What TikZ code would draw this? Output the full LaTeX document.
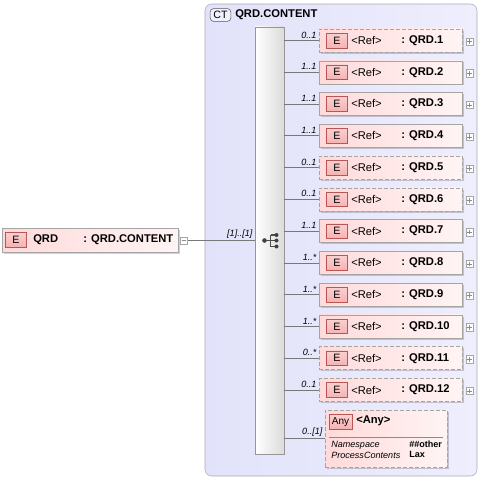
\documentclass[tikz,border=0pt]{standalone}
\usepackage{fontspec}
\setmainfont{Liberation Sans}
\usetikzlibrary{positioning, calc, shadows}

\definecolor{ctleft}{RGB}{226,226,250}
\definecolor{ctright}{RGB}{238,238,253}
\definecolor{ctline}{RGB}{170,170,180}
\definecolor{elemleft}{RGB}{255,218,218}
\definecolor{elemright}{RGB}{255,244,244}
\definecolor{elemline}{RGB}{165,165,165}
\definecolor{badgefill}{RGB}{246,178,178}
\definecolor{badgeline}{RGB}{185,85,85}
\definecolor{seqline}{RGB}{150,150,150}
\definecolor{conncol}{RGB}{120,120,120}

\begin{document}
\begin{tikzpicture}[x=0.75pt,y=0.75pt,yscale=-1,xscale=1,
	ctbox/.style={draw=ctline, rounded corners=5pt, left color=ctleft, right color=ctright, inner sep=0pt},
	ctbadge/.style={draw=black!65, fill=ctleft!80!blue!20, rounded corners=2.5pt, inner sep=0pt, minimum width=15.5pt, minimum height=9.5pt, font=\fontsize{8}{9}\selectfont},
	seqbar/.style={draw=seqline, left color=white, right color=black!14, inner sep=0pt, minimum width=21.75pt, minimum height=320.25pt, drop shadow={shadow xshift=1pt, shadow yshift=-1pt, fill=black, opacity=0.15}},
	elembox/.style={draw=elemline, left color=elemleft, right color=elemright, inner sep=0pt, minimum width=107.25pt, minimum height=17.25pt, drop shadow={shadow xshift=1.2pt, shadow yshift=-1.2pt, fill=black, opacity=0.18}},
	optbox/.style={elembox, dashed, dash pattern=on 3pt off 1.5pt},
	ebadge/.style={draw=badgeline, top color=badgefill!60, bottom color=badgefill, inner sep=0pt, minimum width=15.75pt, minimum height=11pt, font=\fontsize{8}{9}\selectfont},
	plusbox/.style={draw=black!35, fill=white, inner sep=0pt, minimum size=5.5pt, path picture={\draw[black!45] ([xshift=1pt]path picture bounding box.west) -- ([xshift=-1pt]path picture bounding box.east);}},
	plus/.style={plusbox, path picture={\draw[black!45] ([xshift=1pt]path picture bounding box.west) -- ([xshift=-1pt]path picture bounding box.east); \draw[black!45] ([yshift=-1pt]path picture bounding box.north) -- ([yshift=1pt]path picture bounding box.south);}},
	reftxt/.style={anchor=west, inner sep=0pt, font=\fontsize{8.4}{10}\selectfont},
	nametxt/.style={anchor=west, inner sep=0pt, font=\fontsize{8.4}{10}\selectfont\bfseries},
	mult/.style={anchor=south east, inner sep=1.5pt, font=\fontsize{6.8}{8}\selectfont\itshape},
	small/.style={anchor=west, inner sep=0pt, font=\fontsize{6.8}{8}\selectfont},
	conn/.style={draw=conncol, line width=0.5pt}]
\useasboundingbox (0,0) rectangle (480,481);

% Complex type container
\node [ctbox, minimum width=204pt, minimum height=354pt] (ct) at (341,240) {};
\node [ctbadge] (ctb) at (220.5,15) {CT};
\node [nametxt] (cthdr) at (235,14.5) {QRD.CONTENT};

% Sequence compositor
\node [seqbar] (seq) at (269.5,240.5) {};
\draw [black!70, line width=0.8pt] (264.5,240.5) -- (276.5,240.5) (270.5,235) -- (270.5,246.5) (270.5,235) -- (276.5,235) (270.5,246.5) -- (276.5,246.5);
\fill [black!75] (264.5,240.5) circle (2.3) (276.5,235) circle (2) (276.5,240.5) circle (2) (276.5,246.5) circle (2);

% Root element
\node [elembox, minimum width=132pt, minimum height=18pt] (qrd) at (90,240) {};
\node [ebadge] (qrde) at (16,239.5) {E};
\node [nametxt] at (33,239.5) {QRD};
\node [nametxt] at (83,239.5) {: QRD.CONTENT};
\node [plusbox] (qrdm) at (184,240.5) {};
\draw [conn] (qrdm) -- (qrdm -| seq.west) node [mult, pos=1] {[1]..[1]};

% Child elements
\node [optbox] (r1) at (390.5,40.5) {};
\node [ebadge] at (337,40.5) {E};
\node [reftxt] at (351,40.5) {<Ref>};
\node [nametxt] at (401,40.5) {: QRD.1};
\node [plus] at (469.5,41.5) {};
\draw [conn] (seq.east |- r1.west) -- (r1.west) node [mult, pos=1] {0..1};

\node [elembox] (r2) at (390.5,72.3) {};
\node [ebadge] at (337,72.3) {E};
\node [reftxt] at (351,72.3) {<Ref>};
\node [nametxt] at (401,72.3) {: QRD.2};
\node [plus] at (469.5,73.3) {};
\draw [conn] (seq.east |- r2.west) -- (r2.west) node [mult, pos=1] {1..1};

\node [elembox] (r3) at (390.5,104) {};
\node [ebadge] at (337,104) {E};
\node [reftxt] at (351,104) {<Ref>};
\node [nametxt] at (401,104) {: QRD.3};
\node [plus] at (469.5,105) {};
\draw [conn] (seq.east |- r3.west) -- (r3.west) node [mult, pos=1] {1..1};

\node [elembox] (r4) at (390.5,135.8) {};
\node [ebadge] at (337,135.8) {E};
\node [reftxt] at (351,135.8) {<Ref>};
\node [nametxt] at (401,135.8) {: QRD.4};
\node [plus] at (469.5,136.8) {};
\draw [conn] (seq.east |- r4.west) -- (r4.west) node [mult, pos=1] {1..1};

\node [optbox] (r5) at (390.5,167.6) {};
\node [ebadge] at (337,167.6) {E};
\node [reftxt] at (351,167.6) {<Ref>};
\node [nametxt] at (401,167.6) {: QRD.5};
\node [plus] at (469.5,168.6) {};
\draw [conn] (seq.east |- r5.west) -- (r5.west) node [mult, pos=1] {0..1};

\node [optbox] (r6) at (390.5,199.4) {};
\node [ebadge] at (337,199.4) {E};
\node [reftxt] at (351,199.4) {<Ref>};
\node [nametxt] at (401,199.4) {: QRD.6};
\node [plus] at (469.5,200.4) {};
\draw [conn] (seq.east |- r6.west) -- (r6.west) node [mult, pos=1] {0..1};

\node [elembox] (r7) at (390.5,231.1) {};
\node [ebadge] at (337,231.1) {E};
\node [reftxt] at (351,231.1) {<Ref>};
\node [nametxt] at (401,231.1) {: QRD.7};
\node [plus] at (469.5,232.1) {};
\draw [conn] (seq.east |- r7.west) -- (r7.west) node [mult, pos=1] {1..1};

\node [elembox] (r8) at (390.5,262.9) {};
\node [ebadge] at (337,262.9) {E};
\node [reftxt] at (351,262.9) {<Ref>};
\node [nametxt] at (401,262.9) {: QRD.8};
\node [plus] at (469.5,263.9) {};
\draw [conn] (seq.east |- r8.west) -- (r8.west) node [mult, pos=1] {1..*};

\node [elembox] (r9) at (390.5,294.7) {};
\node [ebadge] at (337,294.7) {E};
\node [reftxt] at (351,294.7) {<Ref>};
\node [nametxt] at (401,294.7) {: QRD.9};
\node [plus] at (469.5,295.7) {};
\draw [conn] (seq.east |- r9.west) -- (r9.west) node [mult, pos=1] {1..*};

\node [elembox] (r10) at (390.5,326.4) {};
\node [ebadge] at (337,326.4) {E};
\node [reftxt] at (351,326.4) {<Ref>};
\node [nametxt] at (401,326.4) {: QRD.10};
\node [plus] at (469.5,327.4) {};
\draw [conn] (seq.east |- r10.west) -- (r10.west) node [mult, pos=1] {1..*};

\node [optbox] (r11) at (390.5,358.2) {};
\node [ebadge] at (337,358.2) {E};
\node [reftxt] at (351,358.2) {<Ref>};
\node [nametxt] at (401,358.2) {: QRD.11};
\node [plus] at (469.5,359.2) {};
\draw [conn] (seq.east |- r11.west) -- (r11.west) node [mult, pos=1] {0..*};

\node [optbox] (r12) at (390.5,390) {};
\node [ebadge] at (337,390) {E};
\node [reftxt] at (351,390) {<Ref>};
\node [nametxt] at (401,390) {: QRD.12};
\node [plus] at (469.5,391) {};
\draw [conn] (seq.east |- r12.west) -- (r12.west) node [mult, pos=1] {0..1};

% Wildcard
\node [optbox, minimum width=91.5pt, minimum height=42.75pt] (any) at (386,438.5) {};
\node [ebadge, minimum width=17pt, font=\fontsize{7.5}{9}\selectfont] (anyb) at (340.5,422) {Any};
\node [nametxt] at (356,421) {<Any>};
\draw [black!45] (329,437) -- (443,437);
\node [small, font=\fontsize{6.8}{8}\selectfont\itshape] at (331,445.5) {Namespace};
\node [small, font=\fontsize{6.8}{8}\selectfont\bfseries] at (409,444.5) {\#\#other};
\node [small, font=\fontsize{6.8}{8}\selectfont\itshape] at (331,455.5) {ProcessContents};
\node [small, font=\fontsize{6.8}{8}\selectfont\bfseries] at (409,454.5) {Lax};
\draw [conn] (seq.east |- any.west) -- (any.west) node [mult, pos=1] {0..[1]};

\end{tikzpicture}
\end{document}
